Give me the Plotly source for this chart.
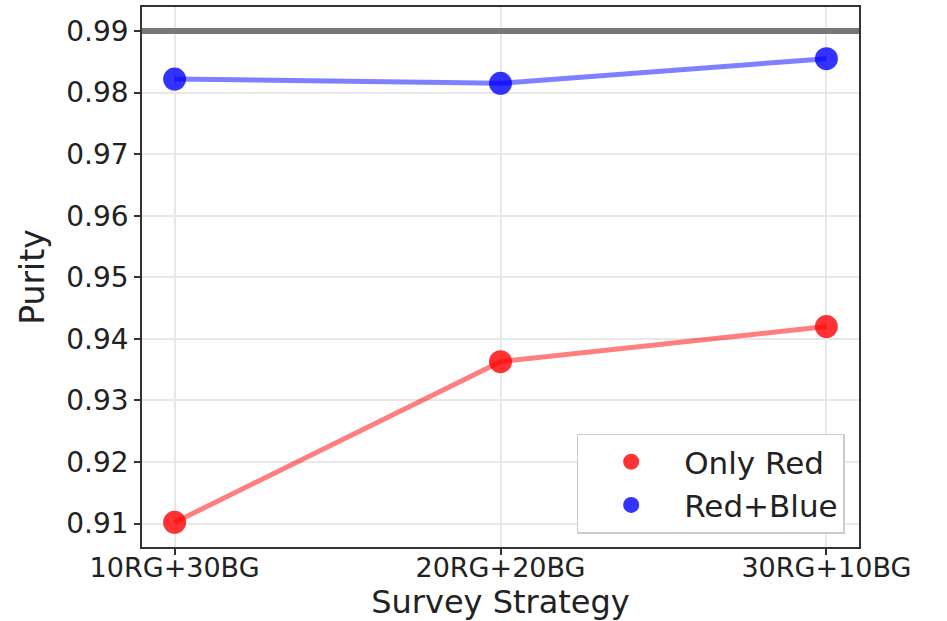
import plotly.graph_objects as go

strategies = ["10RG+30BG", "20RG+20BG", "30RG+10BG"]
only_red = [0.9102, 0.9363, 0.9420]
red_blue = [0.9822, 0.9815, 0.9855]
target = 0.99
y_ticks = [0.91, 0.92, 0.93, 0.94, 0.95, 0.96, 0.97, 0.98, 0.99]

FONT = "DejaVu Sans"
x_idx = list(range(len(strategies)))

fig = go.Figure()
fig.add_hline(y=target, line=dict(color="#777777", width=6), layer="above")

series = [("Only Red", only_red, "rgba(255,0,0,0.5)", "rgba(255,0,0,0.8)"),
          ("Red+Blue", red_blue, "rgba(0,0,255,0.5)", "rgba(0,0,255,0.8)")]
for name, vals, lc, mc in series:
    fig.add_trace(go.Scatter(x=x_idx, y=vals, mode="lines", line=dict(color=lc, width=5),
                             showlegend=False, hoverinfo="skip"))
for name, vals, lc, mc in series:
    fig.add_trace(go.Scatter(x=x_idx, y=vals, mode="markers", name=name,
                             marker=dict(color=mc, size=23, line=dict(width=0))))

axis_common = dict(showline=True, linecolor="#333333", linewidth=1.5, mirror=True,
                   ticks="outside", ticklen=6, tickwidth=1.5, tickcolor="#333333",
                   showgrid=True, gridcolor="#e8e8e8", gridwidth=1.5, zeroline=False,
                   automargin=False)

fig.update_xaxes(**axis_common, tickmode="array", tickvals=x_idx, ticktext=strategies,
                 range=[-0.1, 2.1], ticklabelstandoff=-10,
                 tickfont=dict(family=FONT, size=27, color="#222222"),
                 title=dict(text="Survey Strategy", font=dict(family=FONT, size=32, color="#222222"), standoff=10))
fig.update_yaxes(**axis_common, tickmode="array", tickvals=y_ticks,
                 ticktext=[f"{v:.2f}" for v in y_ticks], range=[0.9062, 0.9939],
                 tickfont=dict(family=FONT, size=28, color="#222222"),
                 title=dict(text="Purity", font=dict(family=FONT, size=33, color="#222222"), standoff=12))

fig.update_layout(
    width=947, height=621,
    margin=dict(l=142, r=88, t=7, b=74),
    plot_bgcolor="white", paper_bgcolor="white",
    font=dict(family=FONT),
    legend=dict(x=0.98, y=0.025, xanchor="right", yanchor="bottom",
                bgcolor="white", bordercolor="#cccccc", borderwidth=1.5,
                font=dict(family=FONT, size=31, color="#222222"),
                itemwidth=96, tracegroupgap=0),
)

fig.write_html("out.html")
